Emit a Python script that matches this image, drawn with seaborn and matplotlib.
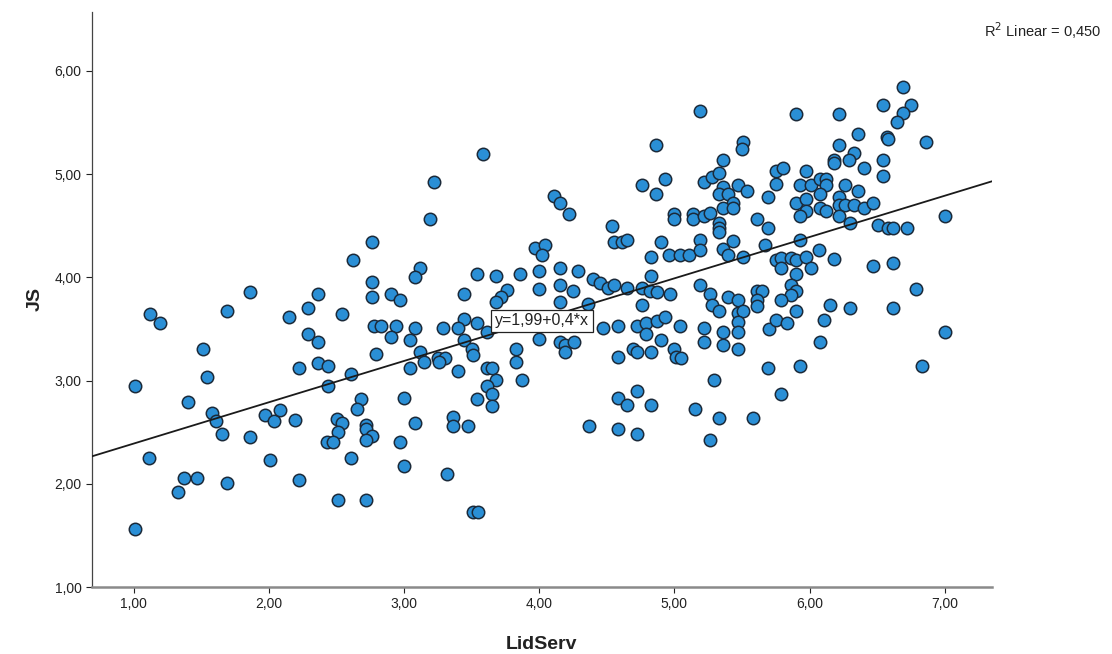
import numpy as np
import pandas as pd
import seaborn as sns
import matplotlib
matplotlib.use("Agg")
import matplotlib.pyplot as plt
from matplotlib.ticker import FuncFormatter

# LidServ (x) and JS (y) values
lidserv = [3.58, 3.22, 3.19, 2.76, 5.19, 4.86, 5.51, 5.50, 5.36, 4.76, 4.93, 4.86, 4.11, 4.15, 4.22, 4.54,
           5.22, 5.28, 5.33, 5.36, 5.33, 5.40, 5.47, 5.54, 5.43, 5.36, 5.43, 5.00, 5.00, 5.14, 5.14, 5.22,
           5.26, 5.33, 5.33, 5.33, 5.61, 5.69, 5.69, 6.69, 6.54, 6.75, 6.69, 6.65, 5.90, 6.22, 6.36, 6.57,
           6.58, 6.86, 6.22, 6.33, 6.18, 6.18, 6.29, 6.40, 6.54, 6.54, 5.75, 5.80, 5.97, 5.75, 5.93, 6.01,
           6.08, 6.12, 6.12, 6.08, 6.26, 6.22, 6.36, 5.90, 5.97, 5.97, 5.93, 6.08, 6.12, 6.22, 6.26, 6.33,
           6.40, 6.47, 6.22, 6.30, 6.51, 6.58, 6.62, 6.72, 7.00, 5.93, 1.12, 1.19, 1.86, 1.69, 1.51, 1.01,
           1.54, 1.40, 2.22, 2.15, 2.29, 2.36, 2.29, 2.36, 2.36, 1.58, 1.61, 1.65, 1.86, 1.97, 2.04, 2.08,
           2.19, 1.11, 1.37, 1.47, 1.33, 1.69, 2.01, 2.22, 1.01, 2.62, 3.12, 3.08, 2.76, 2.76, 2.90, 2.97,
           2.54, 2.78, 2.83, 2.94, 2.90, 3.08, 3.04, 2.79, 3.12, 3.15, 3.25, 3.30, 3.26, 2.44, 2.61, 2.44,
           3.04, 3.40, 3.44, 3.54, 3.68, 3.76, 3.72, 3.68, 3.86, 3.97, 4.04, 4.02, 4.00, 4.00, 3.44, 3.40,
           3.44, 3.29, 3.54, 3.61, 3.50, 3.51, 3.83, 3.83, 4.00, 3.61, 3.65, 3.68, 3.61, 3.65, 3.54, 3.65,
           3.87, 2.68, 3.00, 2.65, 2.50, 2.54, 2.51, 2.43, 2.47, 2.72, 2.72, 2.76, 2.72, 3.08, 2.97, 3.36,
           3.36, 3.47, 2.61, 3.00, 3.32, 2.51, 2.72, 3.51, 3.55, 4.55, 4.61, 4.65, 4.90, 5.19, 4.83, 4.96,
           5.04, 5.11, 5.19, 5.36, 5.40, 5.43, 5.51, 5.67, 4.15, 4.29, 4.15, 4.25, 4.40, 4.45, 4.51, 4.55,
           4.65, 4.76, 4.83, 4.82, 4.87, 4.97, 5.19, 5.26, 5.28, 5.33, 5.40, 5.47, 5.61, 5.65, 5.61, 5.61,
           5.47, 5.51, 5.47, 4.15, 4.36, 4.76, 4.47, 4.58, 4.72, 4.79, 4.87, 4.93, 4.79, 5.04, 5.22, 5.36,
           5.47, 4.15, 4.19, 4.26, 4.19, 4.69, 4.72, 4.83, 4.90, 5.00, 5.01, 5.05, 5.22, 5.36, 5.47, 4.58,
           5.70, 5.69, 5.29, 4.58, 4.65, 4.72, 4.83, 5.15, 6.07, 6.18, 5.75, 5.79, 5.86, 5.90, 5.97, 5.79,
           6.01, 5.90, 5.86, 5.90, 5.86, 5.79, 5.90, 5.75, 5.83, 6.15, 6.11, 6.30, 6.47, 6.62, 6.79, 6.62,
           7.00, 6.08, 5.93, 6.83, 5.79, 4.37, 4.58, 4.72, 5.33, 5.58, 5.26]
js = [5.19, 4.92, 4.56, 4.34, 5.61, 5.28, 5.31, 5.24, 5.14, 4.89, 4.95, 4.81, 4.79, 4.72, 4.61, 4.50,
      4.92, 4.97, 5.01, 4.87, 4.81, 4.81, 4.89, 4.84, 4.72, 4.67, 4.67, 4.61, 4.56, 4.61, 4.56, 4.59,
      4.62, 4.53, 4.48, 4.44, 4.56, 4.78, 4.48, 5.84, 5.67, 5.67, 5.59, 5.50, 5.58, 5.58, 5.39, 5.36,
      5.34, 5.31, 5.28, 5.20, 5.14, 5.11, 5.14, 5.06, 5.14, 4.98, 5.03, 5.06, 5.03, 4.90, 4.89, 4.89,
      4.95, 4.95, 4.89, 4.81, 4.89, 4.78, 4.84, 4.72, 4.76, 4.64, 4.59, 4.67, 4.64, 4.70, 4.70, 4.70,
      4.67, 4.72, 4.59, 4.53, 4.51, 4.48, 4.48, 4.48, 4.59, 4.36, 3.64, 3.56, 3.86, 3.67, 3.31, 2.95,
      3.03, 2.79, 3.12, 3.62, 3.70, 3.84, 3.45, 3.37, 3.17, 2.69, 2.61, 2.48, 2.45, 2.67, 2.61, 2.71,
      2.62, 2.25, 2.06, 2.06, 1.92, 2.01, 2.23, 2.04, 1.56, 4.17, 4.09, 4.00, 3.95, 3.81, 3.84, 3.78,
      3.64, 3.53, 3.53, 3.53, 3.42, 3.51, 3.39, 3.26, 3.28, 3.18, 3.22, 3.22, 3.18, 3.14, 3.06, 2.95,
      3.12, 3.09, 3.84, 4.03, 4.01, 3.88, 3.81, 3.76, 4.03, 4.28, 4.31, 4.22, 4.06, 3.89, 3.60, 3.51,
      3.39, 3.51, 3.56, 3.47, 3.31, 3.25, 3.31, 3.18, 3.40, 3.12, 3.12, 3.01, 2.95, 2.87, 2.82, 2.75,
      3.01, 2.82, 2.83, 2.72, 2.63, 2.59, 2.50, 2.40, 2.40, 2.57, 2.53, 2.46, 2.42, 2.59, 2.40, 2.65,
      2.56, 2.56, 2.25, 2.17, 2.09, 1.84, 1.84, 1.73, 1.73, 4.34, 4.34, 4.36, 4.34, 4.36, 4.20, 4.22,
      4.22, 4.22, 4.26, 4.27, 4.22, 4.35, 4.20, 4.31, 4.09, 4.06, 3.93, 3.87, 3.98, 3.94, 3.90, 3.93,
      3.90, 3.90, 4.01, 3.87, 3.86, 3.84, 3.93, 3.84, 3.73, 3.67, 3.81, 3.78, 3.87, 3.87, 3.78, 3.72,
      3.65, 3.67, 3.57, 3.76, 3.74, 3.73, 3.51, 3.53, 3.53, 3.56, 3.58, 3.62, 3.45, 3.53, 3.51, 3.47,
      3.47, 3.37, 3.34, 3.37, 3.28, 3.31, 3.28, 3.28, 3.39, 3.31, 3.23, 3.22, 3.37, 3.34, 3.31, 3.23,
      3.50, 3.12, 3.01, 2.83, 2.76, 2.90, 2.76, 2.72, 4.26, 4.18, 4.17, 4.19, 4.19, 4.17, 4.20, 4.09,
      4.09, 4.03, 3.93, 3.87, 3.83, 3.78, 3.67, 3.59, 3.56, 3.73, 3.59, 3.70, 4.11, 4.14, 3.89, 3.70,
      3.47, 3.37, 3.14, 3.14, 2.87, 2.56, 2.53, 2.48, 2.64, 2.64, 2.42]

# fit line as reported by SPSS
intercept = 1.99
slope = 0.4
r2 = "0,450"

x_ticks = [1, 2, 3, 4, 5, 6, 7]
y_ticks = [1, 2, 3, 4, 5, 6]

df = pd.DataFrame({"LidServ": lidserv, "JS": js})

sns.set_theme(style="white")
plt.rcParams["font.family"] = ["Arial", "Liberation Sans", "DejaVu Sans"]

fig = plt.figure(figsize=(11.12, 6.54), dpi=100)
ax = fig.add_axes([0.0827, 0.1024, 0.8094, 0.8793])

xmin, xmax = 0.69, 7.35
ymin, ymax = 1.0, 6.57

xs = np.array([xmin, xmax])
ax.plot(xs, intercept + slope * xs, color="#1a1a1a", lw=1.3, zorder=3)

sns.scatterplot(data=df, x="LidServ", y="JS", ax=ax, s=80,
                color="#2a8fd6", edgecolor="#1b2a3a", linewidth=1.1, zorder=2)

ax.set_xlim(xmin, xmax)
ax.set_ylim(ymin, ymax)
ax.set_xticks(x_ticks)
ax.set_yticks(y_ticks)
fmt = FuncFormatter(lambda v, p: f"{v:.2f}".replace(".", ","))
ax.xaxis.set_major_formatter(fmt)
ax.yaxis.set_major_formatter(fmt)
ax.tick_params(axis="both", labelsize=10, colors="#222222", length=4, width=0.8,
               direction="out", bottom=True, left=True)

sns.despine(ax=ax)
ax.spines["left"].set_color("#444444")
ax.spines["left"].set_linewidth(0.9)
ax.spines["bottom"].set_color("#8a8a8a")
ax.spines["bottom"].set_linewidth(1.8)

ax.set_xlabel("LidServ", fontsize=14, fontweight="bold", color="#222222", labelpad=18)
ax.set_ylabel("JS", fontsize=14, fontweight="bold", color="#222222", labelpad=8)

ax.text(4.02, 3.58, "y=1,99+0,4*x", ha="center", va="center", fontsize=11.5,
        color="#222222", zorder=4,
        bbox=dict(boxstyle="square,pad=0.22", fc="white", ec="#222222", lw=0.9))

fig.text(0.99, 0.953, "R$^2$ Linear = " + r2, ha="right", va="center",
         fontsize=10.5, color="#222222")

fig.savefig("out.png", dpi=100)
